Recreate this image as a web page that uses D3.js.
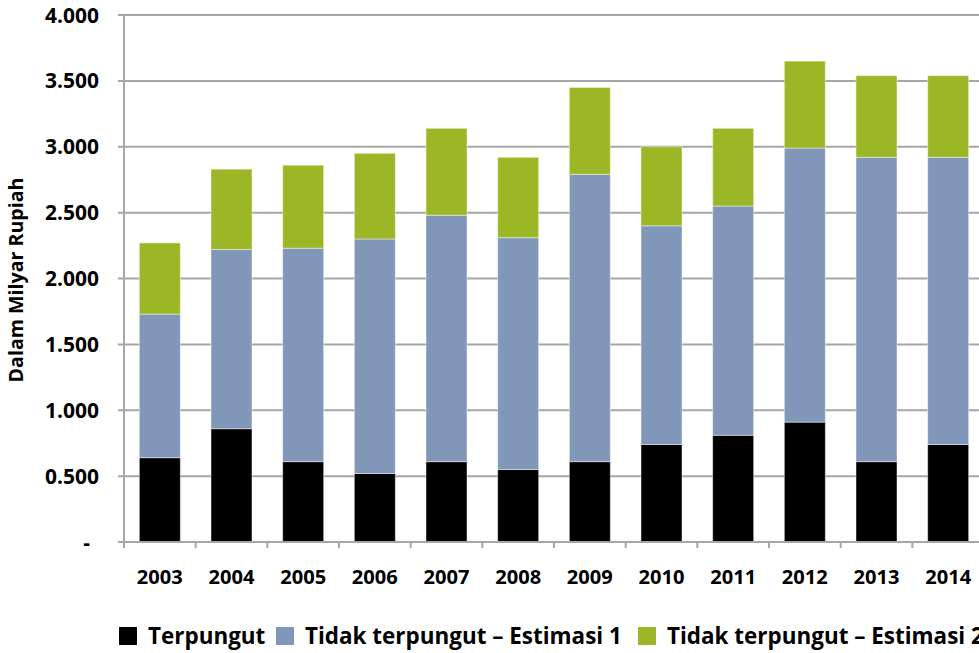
<!DOCTYPE html>
<html>
<head>
<meta charset="utf-8">
<script src="https://cdn.jsdelivr.net/npm/d3@7"></script>
<style>
  body { margin: 0; background: #fff; }
  svg { display: block; font-family: "Open Sans", Lato, sans-serif; font-weight: 700; }
</style>
</head>
<body>
<div id="viz"></div>
<script>
// data (Dalam Milyar Rupiah)
const years = ["2003","2004","2005","2006","2007","2008","2009","2010","2011","2012","2013","2014"];
const terpungut = [640, 860, 610, 520, 610, 550, 610, 740, 810, 910, 610, 740];
const estimasi1 = [1090, 1360, 1620, 1780, 1870, 1760, 2180, 1660, 1740, 2080, 2310, 2180];
const estimasi2 = [540, 610, 630, 650, 660, 610, 660, 600, 590, 660, 620, 620];
const seriesNames = ["Terpungut", "Tidak terpungut \u2013 Estimasi 1", "Tidak terpungut \u2013 Estimasi 2"];
const yTicks = [0, 500, 1000, 1500, 2000, 2500, 3000, 3500, 4000];
const yTickLabels = ["-", "0.500", "1.000", "1.500", "2.000", "2.500", "3.000", "3.500", "4.000"];

const colors = ["#000000", "#8197b9", "#9bb726"];

const width = 979, height = 653;
const svg = d3.select("#viz").append("svg")
    .attr("width", width)
    .attr("height", height);

// scale a text's font size so it spans the wanted width
function fit(sel, target) {
  const w = sel.node().getComputedTextLength();
  const fs = parseFloat(sel.attr("font-size"));
  return fs * target / w;
}

const x = d3.scaleBand()
    .domain(years)
    .range([124, 984])
    .paddingInner(0.428)
    .paddingOuter(0.214);

const y = d3.scaleLinear()
    .domain([0, 4000])
    .range([542, 15]);

// gridlines
svg.append("g")
  .selectAll("line")
  .data(yTicks)
  .join("line")
    .attr("x1", 118)
    .attr("x2", width)
    .attr("y1", d => y(d))
    .attr("y2", d => y(d))
    .attr("stroke", "#a6a6a6")
    .attr("stroke-width", 2);

// y tick labels
const yLabels = svg.append("g")
  .selectAll("text")
  .data(yTicks)
  .join("text")
    .attr("x", (d, i) => i === 0 ? 90 : 99)
    .attr("y", d => y(d))
    .attr("dy", "0.36em")
    .attr("text-anchor", "end")
    .attr("font-size", 20)
    .text((d, i) => yTickLabels[i]);
yLabels.attr("font-size", fit(yLabels.filter((d, i) => i === 8), 54));

// stacked bars
const table = years.map((yr, i) => ({ year: yr, s0: terpungut[i], s1: estimasi1[i], s2: estimasi2[i] }));
const stack = d3.stack().keys(["s0", "s1", "s2"])(table);

svg.append("g")
  .selectAll("g")
  .data(stack)
  .join("g")
    .attr("fill", (d, i) => colors[i])
  .selectAll("rect")
  .data(d => d)
  .join("rect")
    .attr("x", d => x(d.data.year))
    .attr("width", x.bandwidth())
    .attr("y", d => y(d[1]))
    .attr("height", d => y(d[0]) - y(d[1]))
    .attr("stroke", "rgba(255,255,255,0.45)")
    .attr("stroke-width", 1);

// axes lines
svg.append("line")
    .attr("x1", 124).attr("x2", 124)
    .attr("y1", y(4000)).attr("y2", 548)
    .attr("stroke", "#a6a6a6").attr("stroke-width", 2);
svg.append("line")
    .attr("x1", 118).attr("x2", width)
    .attr("y1", y(0)).attr("y2", y(0))
    .attr("stroke", "#a6a6a6").attr("stroke-width", 2);

// x category ticks at band edges
svg.append("g")
  .selectAll("line")
  .data(years.slice(1))
  .join("line")
    .attr("x1", d => x(d) - x.step() * x.paddingInner() / 2)
    .attr("x2", d => x(d) - x.step() * x.paddingInner() / 2)
    .attr("y1", y(0))
    .attr("y2", 548)
    .attr("stroke", "#a6a6a6")
    .attr("stroke-width", 2);

// x labels
const xLabels = svg.append("g")
  .selectAll("text")
  .data(years)
  .join("text")
    .attr("x", d => x(d) + x.bandwidth() / 2)
    .attr("y", 584)
    .attr("text-anchor", "middle")
    .attr("font-size", 20)
    .text(d => d);
xLabels.attr("font-size", fit(xLabels.filter((d, i) => i === 7), 46));

// y axis title
const yTitle = svg.append("text")
    .attr("transform", "translate(23,280) rotate(-90)")
    .attr("text-anchor", "middle")
    .attr("font-size", 18)
    .text("Dalam Milyar Rupiah");
yTitle.attr("font-size", fit(yTitle, 205));

// legend
const legendX = [119, 276, 638];
const legend = svg.append("g")
  .selectAll("g")
  .data(seriesNames)
  .join("g")
    .attr("transform", (d, i) => `translate(${legendX[i]},627)`);

legend.append("rect")
    .attr("width", 18)
    .attr("height", 18)
    .attr("fill", (d, i) => colors[i]);

const legendText = legend.append("text")
    .attr("x", 29)
    .attr("y", 17)
    .attr("font-size", 22)
    .text(d => d);
legendText.attr("font-size", fit(legendText.filter((d, i) => i === 1), 317));
</script>
</body>
</html>
